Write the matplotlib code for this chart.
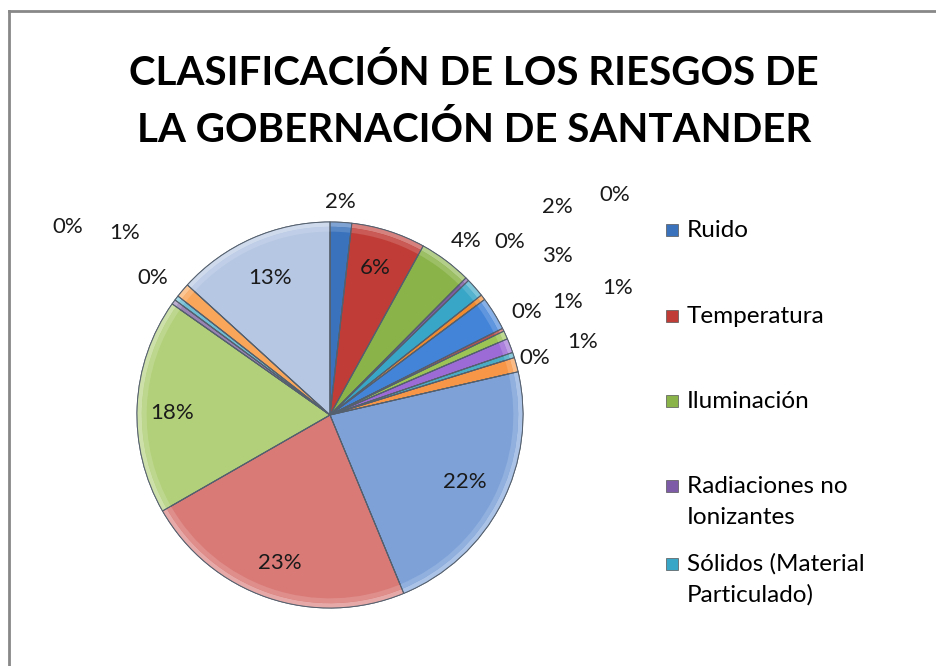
import matplotlib.pyplot as plt
from matplotlib.colors import to_rgb
from matplotlib.lines import Line2D
from matplotlib.patches import Rectangle, Wedge

plt.rcParams["font.family"] = ["Lato", "DejaVu Sans"]

W, H = 937, 666

title_lines = ["CLASIFICACIÓN DE LOS RIESGOS DE", "LA GOBERNACIÓN DE SANTANDER"]

# only the first five categories are visible in the legend of the original
legend_labels = [
    "Ruido",
    "Temperatura",
    "Iluminación",
    "Radiaciones no\nIonizantes",
    "Sólidos (Material\nParticulado)",
]

# share of each risk (%), clockwise from 12 o'clock
values = [1.8, 6.2, 4.4, 0.3, 1.6, 0.45, 2.8, 0.25, 0.7, 1.2, 0.45, 1.2,
          22.3, 22.9, 18.0, 0.4, 0.4, 1.2, 13.2]

colors = [
    "#3a72bb", "#c03d37", "#8ab34a", "#7d5ba6", "#38a6c6", "#f08a30",
    "#4384d8", "#c0504d", "#9bc455", "#9c6bd6", "#4bacc6", "#f79646",
    "#7ea2d8", "#d97a77", "#b2d07a", "#9983b5", "#6fbdd3", "#f9a65a",
    "#b5c7e3",
]

# label positions (pixels in the original) -- Excel "best fit" placement
label_px = [
    (340, 202), (375, 268), (466, 241), (510, 242), (557, 207), (615, 195),
    (557, 256), (527, 312), (568, 302), (618, 288), (535, 358), (583, 342),
    (465, 482), (280, 563), (172, 413), (68, 227), (153, 278), (125, 233),
    (270, 278),
]

CX, CY, R = 330, 415, 193


def tint(c, k):
    r, g, b = to_rgb(c)
    return (r + (1 - r) * k, g + (1 - g) * k, b + (1 - b) * k)


fig = plt.figure(figsize=(W / 100, H / 100), dpi=100)
ax = fig.add_axes([0, 0, 1, 1])

wedges, _ = ax.pie(
    values,
    colors=colors,
    startangle=90,
    counterclock=False,
    radius=1,
    wedgeprops=dict(edgecolor="#55606e", linewidth=0.7),
)

# rough stand-in for Excel's bevel: lighter band along the outer rim
for w, c in zip(wedges, colors):
    for r_out, k in [(1.0, 0.35), (0.975, 0.15)]:
        ax.add_patch(Wedge((0, 0), r_out, w.theta1, w.theta2, width=0.025,
                           facecolor=tint(c, k), edgecolor="none", zorder=2))
    ax.add_patch(Wedge((0, 0), 1, w.theta1, w.theta2, facecolor="none",
                       edgecolor="#55606e", linewidth=0.7, zorder=3))

ax.set_aspect("auto")
ax.set_xlim(-CX / R, (W - CX) / R)
ax.set_ylim(-(H - CY) / R, CY / R)
ax.axis("off")

total = sum(values)
for v, (px, py) in zip(values, label_px):
    ax.text((px - CX) / R, (CY - py) / R, f"{round(v / total * 100):.0f}%",
            ha="center", va="center", fontsize=16, color="#1a1a1a", zorder=4)

# title
for line, base in zip(title_lines, [85, 142]):
    fig.text(474 / W, 1 - base / H, line, ha="center", va="baseline",
             fontsize=29, fontweight="bold", color="black")

# legend, drawn by hand to follow Excel's spacing
first_base = [237, 323, 408, 493, 571]
for lab, col, base in zip(legend_labels, colors, first_base):
    fig.add_artist(Rectangle((666 / W, 1 - (base - 1) / H), 12 / W, 12 / H,
                             transform=fig.transFigure, facecolor=col,
                             edgecolor="#555555", linewidth=0.5))
    for i, part in enumerate(lab.split("\n")):
        fig.text(687 / W, 1 - (base + 31 * i) / H, part, ha="left",
                 va="baseline", fontsize=17.5, color="black")

# chart-area border (only top and left edges fall inside the crop)
fig.add_artist(Line2D([9 / W, 9 / W], [0, 1 - 11 / H], color="#888888",
                      linewidth=2, transform=fig.transFigure))
fig.add_artist(Line2D([9 / W, 1], [1 - 11 / H, 1 - 11 / H], color="#888888",
                      linewidth=2, transform=fig.transFigure))

fig.savefig("out.png", dpi=100)
